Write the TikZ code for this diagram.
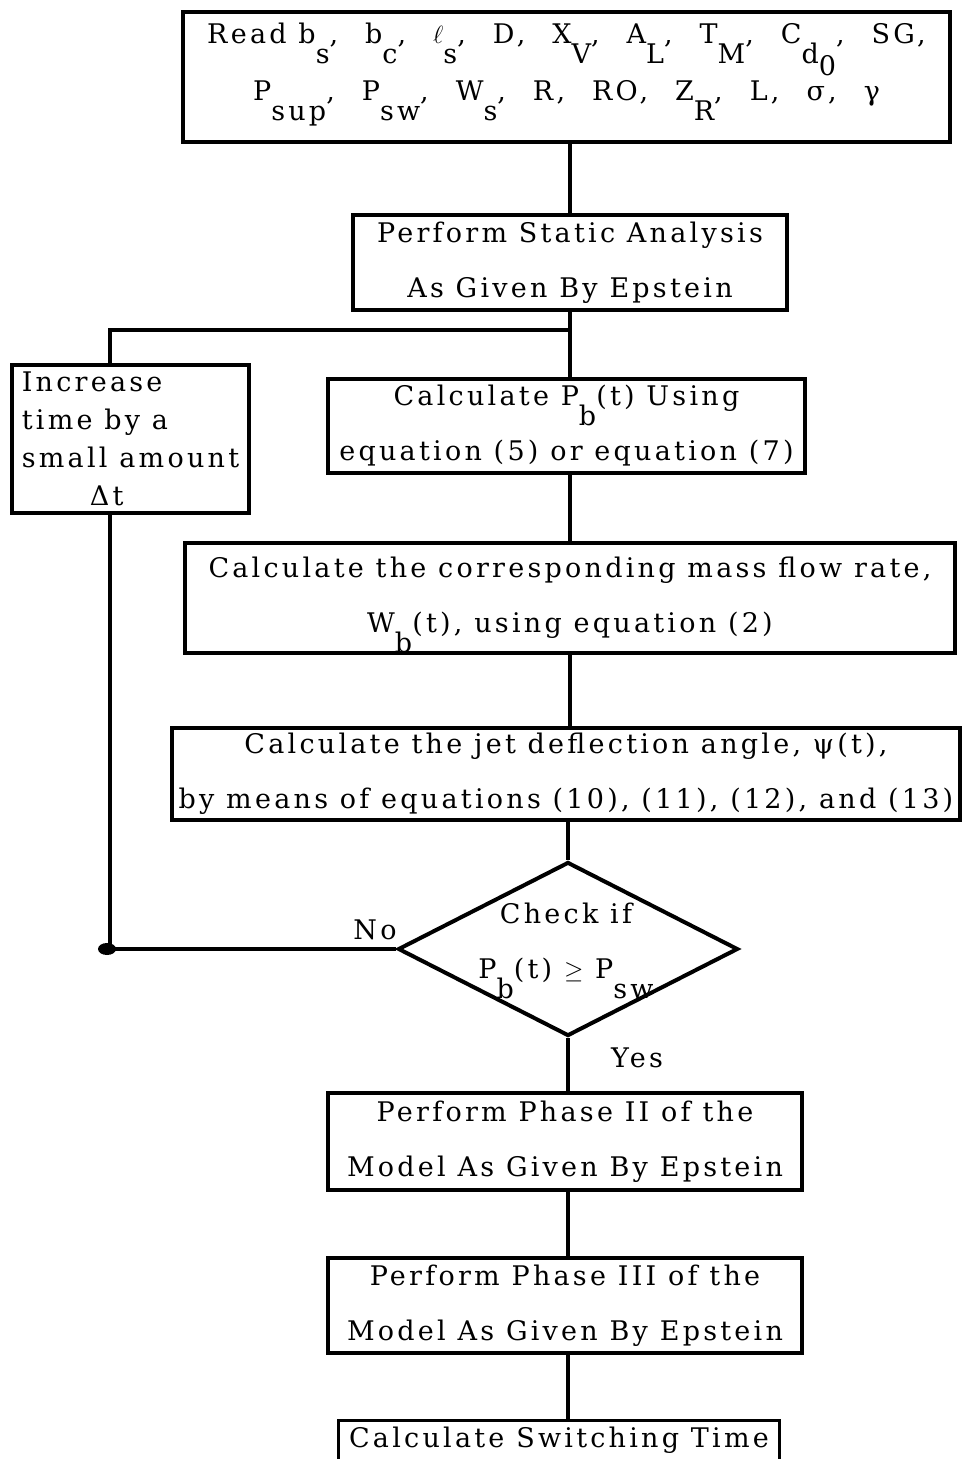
\documentclass[tikz,border=0pt]{standalone}
\usepackage{fontspec}
\newfontfamily\tw{DejaVu Serif}[LetterSpace=12]
\usetikzlibrary{shapes.geometric}
\newcommand\dn[1]{\raisebox{-20pt}[0pt][0pt]{#1}}
\newcommand\gp{\hspace{27pt}}
\begin{document}
\begin{tikzpicture}[x=1pt,y=-1pt,
  box/.style={draw, line width=3.4pt, rectangle, inner sep=0pt, align=center, font=\tw\fontsize{27}{55}\selectfont},
  conn/.style={line width=3.4pt},
  lbl/.style={inner sep=0pt, font=\tw\fontsize{27}{30}\selectfont}]
\useasboundingbox (0,0) rectangle (962,1459);
\clip (0,0) rectangle (962,1459);
\node[box, minimum width=767pt, minimum height=130pt, font=\tw\fontsize{27}{57}\selectfont] (rd) at (566.5,77)
  {Read b\dn{s},\gp b\dn{c},\gp $\ell$\dn{s},\gp D,\gp X\dn{V},\gp A\dn{L},\gp T\dn{M},\gp C\dn{d\raisebox{-12pt}[0pt][0pt]{0}},\gp SG,\\
   P\dn{sup},\gp P\dn{sw},\gp W\dn{s},\gp R,\gp RO,\gp Z\dn{R},\gp L,\gp σ,\gp γ\rule[-30pt]{0pt}{0pt}};
\node[box, minimum width=434pt, minimum height=95pt] (sa) at (570,262.5)
  {Perform Static Analysis\\As Given By Epstein};
\node[box, minimum width=237pt, minimum height=148pt, align=left, font=\tw\fontsize{27}{38}\selectfont] (inc) at (130.5,439)
  {Increase\\time by a\\small amount\\\hspace*{68pt}Δt};
\node[box, minimum width=477pt, minimum height=94pt] (pb) at (566.5,426)
  {Calculate P\dn{b}(t) Using\\equation (5) or equation (7)};
\node[box, minimum width=770pt, minimum height=110pt] (mf) at (570,598)
  {Calculate the corresponding mass flow rate,\\W\dn{b}(t),\ using equation (2)};
\node[box, minimum width=788pt, minimum height=92pt] (jd) at (566,774)
  {Calculate the jet deflection angle,\ ψ(t),\\by means of equations (10), (11), (12), and (13)};
\node[draw, diamond, line width=4pt, minimum width=340pt, minimum height=174pt, inner sep=0pt] (chk) at (568,949) {};
\node[lbl, align=center, font=\tw\fontsize{27}{55}\selectfont] (chkt) at (566,943)
  {Check if\\P\dn{b}(t) $\geq$ P\dn{sw}};
\node[lbl] (no) at (375,930) {No};
\node[lbl] (yes) at (637,1058) {Yes};
\node[box, minimum width=474pt, minimum height=97pt] (ph2) at (565,1141.5)
  {Perform Phase II of the\\Model As Given By Epstein};
\node[box, minimum width=474pt, minimum height=95pt] (ph3) at (565,1305.5)
  {Perform Phase III of the\\Model As Given By Epstein};
\node[box, draw=none, minimum width=438pt, minimum height=36pt] (sw) at (559,1440)
  {Calculate Switching Time};
\draw[conn] ([yshift=-30pt]sw.south west) -- (sw.north west) -- (sw.north east) -- ([yshift=-30pt]sw.south east);
\coordinate (fb) at (570,330);
\coordinate (nc) at (110,949);
\draw[conn] (sa.north) -- (sa.north |- rd.south);
\draw[conn] (sa.south) -- (sa.south |- pb.north);
\draw[conn] (fb) -| (inc.north -| nc);
\draw[conn] (mf.north |- pb.south) -- (mf.north);
\draw[conn] (mf.south) -- (mf.south |- jd.north);
\draw[conn] (chk.north |- jd.south) -- (chk.north);
\draw[conn] (chk.south) -- (chk.south |- ph2.north);
\draw[conn] (chk.south |- ph2.south) -- (chk.south |- ph3.north);
\draw[conn] (chk.south |- ph3.south) -- (chk.south |- sw.north);
\draw[conn] (chk.west) -- (nc) -- (nc |- inc.south);
\fill ([xshift=-3pt]nc) ellipse [x radius=9pt, y radius=6pt];
\end{tikzpicture}
\end{document}
